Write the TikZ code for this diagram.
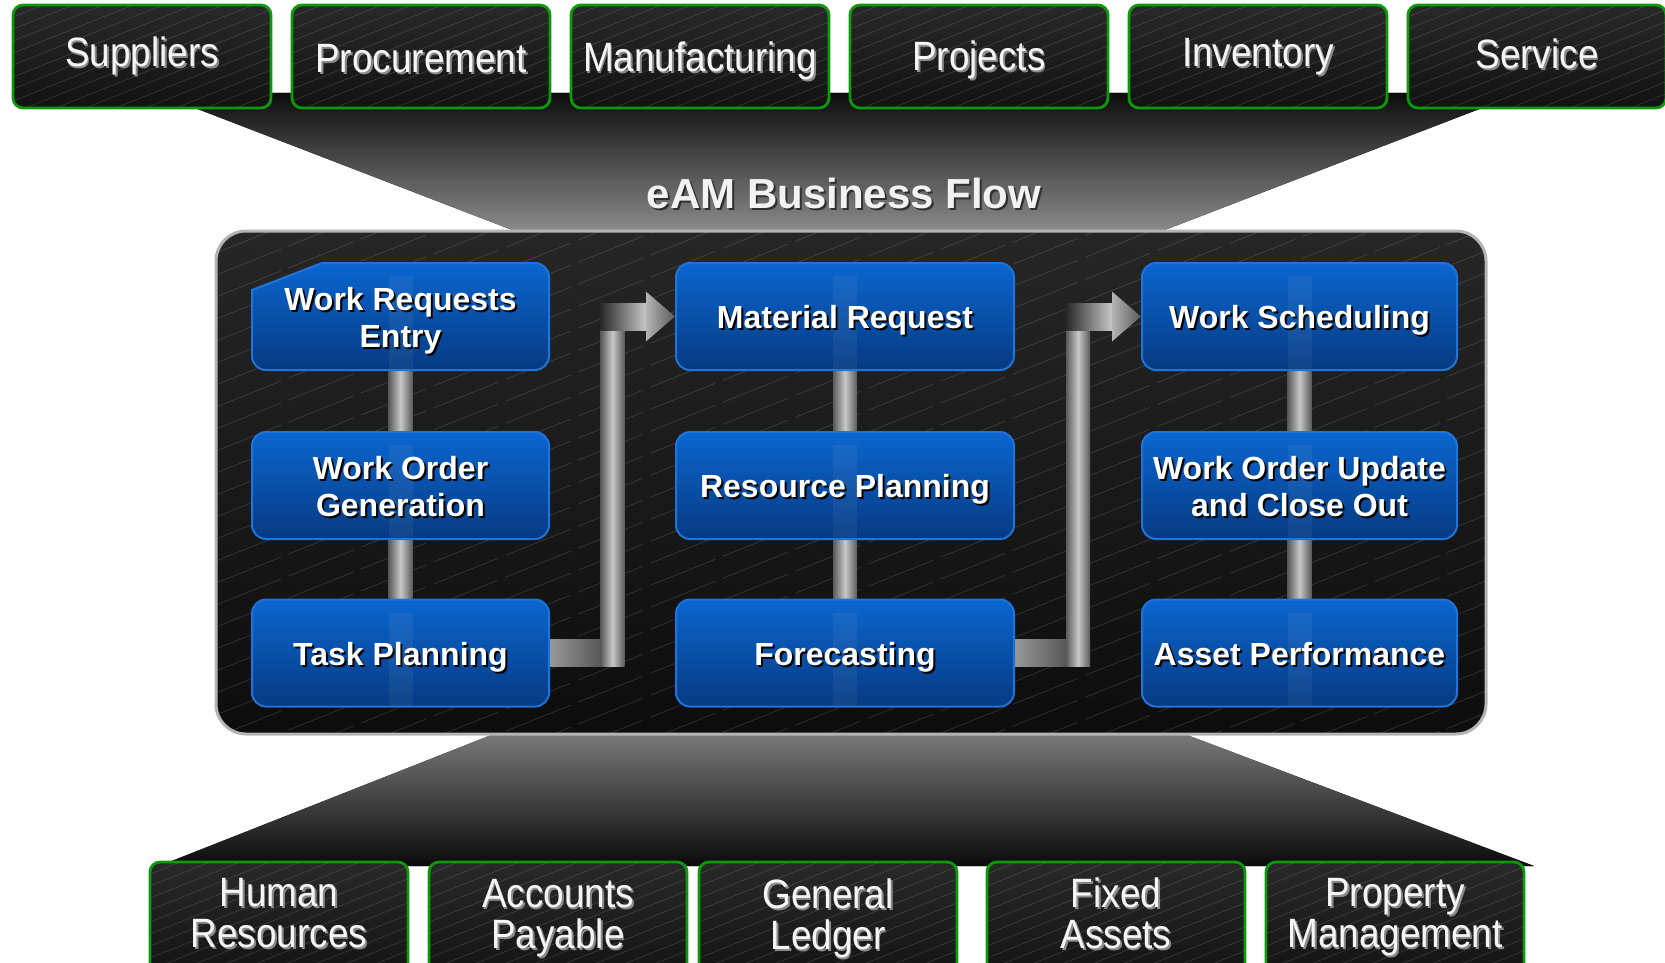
\documentclass[tikz,border=0pt]{standalone}
\usepackage{fontspec}
\setmainfont{Liberation Sans}
\usetikzlibrary{calc}
\definecolor{grnb}{HTML}{0C9A0C}
\definecolor{bluetop}{HTML}{0B66D0}
\definecolor{bluebot}{HTML}{063A82}
\definecolor{blueb}{HTML}{1E74DA}
\definecolor{shgray}{HTML}{8A8A8A}
\definecolor{shdark}{HTML}{303030}
\definecolor{bargray}{HTML}{C8C8C8}
\definecolor{bardark}{HTML}{5A5A5A}
\definecolor{panelb}{HTML}{B4B4B4}
\pgfdeclarelayer{back}\pgfdeclarelayer{mid}\pgfsetlayers{back,mid,main}
\newcommand\shd[2][black]{\leavevmode\rlap{\kern2pt\raisebox{-2pt}{\textcolor{#1}{#2}}}#2}
\newcommand\bsh[1]{\leavevmode\rule{0pt}{26pt}\rlap{\kern2pt\raisebox{-2pt}{\textcolor{black}{\smash{#1}}}}\smash{#1}}
\newcommand\gtx[1]{\scalebox{0.9}[1]{\shd[shgray]{#1}}}
\newcommand\grbox[3]{%
 \path[top color=black!84, bottom color=black!93, rounded corners=10] ({#1-129},#2) rectangle ({#1+129},#3);
 \begin{scope}
 \clip[rounded corners=10] ({#1-129},#2) rectangle ({#1+129},#3);
 \foreach \i in {0,...,22} \draw[white, opacity=0.16, line width=0.6] ({#1-129},{#2+\i*12}) -- ++(258,-103.2);
 \end{scope}
 \draw[grnb, line width=2.8, rounded corners=10] ({#1-129},#2) rectangle ({#1+129},#3);
}
\tikzset{
 gtxt/.style={text=white!96!black, font=\fontsize{41}{41}\selectfont, inner sep=0pt, align=center},
 bluebox/.style={rectangle, rounded corners=14, draw=blueb, line width=2, top color=bluetop, bottom color=bluebot, text=white, font=\bfseries\fontsize{32}{37}\selectfont, align=center, inner sep=0pt, minimum height=107},
 vbar/.style={left color=bardark, right color=bardark, middle color=bargray},
 hbarlow/.style={left color=bargray!95!black, right color=bardark!120},
 shaft/.style={left color=bardark!130, right color=bargray},
 ahead/.style={left color=bargray!90!black, right color=bardark},
 glint/.style={fill=white, opacity=0.055},
}
\begin{document}
\begin{tikzpicture}[x=1pt,y=-1pt]
\useasboundingbox (0,0) rectangle (1665,963);
\clip (0,0) rectangle (1665,963);
\begin{pgfonlayer}{back}
\fill[white] (0,0) rectangle (1665,963);
% funnels
\fill[top color=black!95, bottom color=black!45] (156,93) -- (1521,93) -- (1157,233) -- (520,233) -- cycle;
\fill[top color=black!52, bottom color=black!96] (499,732) -- (1179,732) -- (1534,866) -- (159,866) -- cycle;
% main panel
\path[top color=black!85, bottom color=black!95, rounded corners=30] (216,231) rectangle (1486,734);
\begin{scope}
\clip[rounded corners=30] (216,231) rectangle (1486,734);
\foreach \i in {0,...,47} \draw[white, opacity=0.15, line width=0.7, dash pattern=on 70pt off 8pt] (216,{231+\i*22}) -- ++(1270,-508);
\end{scope}
\draw[panelb, line width=3, rounded corners=30] (216,231) rectangle (1486,734);
\end{pgfonlayer}

% top boxes
\grbox{142}{5}{108}
\grbox{421}{5}{108}
\grbox{700}{5}{108}
\grbox{979}{5}{108}
\grbox{1258}{5}{108}
\grbox{1537}{5}{108}
\node[gtxt] (sup) at (142,57) {\gtx{Suppliers}};
\node[gtxt] (pro) at (421,60) {\gtx{Procurement}};
\node[gtxt] (man) at (700,62) {\gtx{Manufacturing}};
\node[gtxt] (prj) at (979,61) {\gtx{Projects}};
\node[gtxt] (inv) at (1258,58) {\gtx{Inventory}};
\node[gtxt] (ser) at (1537,55) {\gtx{Service}};

% bottom boxes
\grbox{279}{862}{985}
\grbox{558}{862}{985}
\grbox{828}{862}{985}
\grbox{1116}{862}{985}
\grbox{1395}{862}{985}
\node[gtxt] (hr) at (279,914) {\gtx{Human}\\\gtx{Resources}};
\node[gtxt] (ap) at (558,919) {\gtx{Accounts}\\\gtx{Payable}};
\node[gtxt] (gl) at (828,919) {\gtx{General}\\\gtx{Ledger}};
\node[gtxt] (fa) at (1116,914) {\gtx{Fixed}\\\gtx{Assets}};
\node[gtxt] (pm) at (1395,918) {\gtx{Property}\\\gtx{Management}};

% title
\node[text=white!95!black, font=\bfseries\fontsize{42}{48}\selectfont, inner sep=0pt] (title) at (844,194) {\shd[shdark]{eAM Business Flow}};

% blue boxes
\path[top color=bluetop, bottom color=bluebot, draw=blueb, line width=2]
  (252,290) -- (322,263) [rounded corners=14] -- (549,263) -- (549,370) -- (252,370) [sharp corners] -- cycle;
\node[bluebox, draw=none, shade=none, fill=none, minimum width=297] (wre) at (400.5,316.5) {\bsh{Work Requests}\\\bsh{Entry}};
\node[bluebox, minimum width=297] (wog) at (400.5,485.5) {\bsh{Work Order}\\\bsh{Generation}};
\node[bluebox, minimum width=297] (tp) at (400.5,653) {\bsh{Task Planning}};
\node[bluebox, minimum width=338] (mr) at (845,316.5) {\bsh{Material Request}};
\node[bluebox, minimum width=338] (rp) at (845,485.5) {\bsh{Resource Planning}};
\node[bluebox, minimum width=338] (fc) at (845,653) {\bsh{Forecasting}};
\node[bluebox, minimum width=315] (ws) at (1299.5,316.5) {\bsh{Work Scheduling}};
\node[bluebox, minimum width=315] (wou) at (1299.5,485.5) {\bsh{Work Order Update}\\\bsh{and Close Out}};
\node[bluebox, minimum width=315] (ap2) at (1299.5,653) {\bsh{Asset Performance}};

% faint glints of bars through boxes
\foreach \n in {wre,wog,tp,mr,rp,fc,ws,wou,ap2}
  \fill[glint] ($(\n.north)+(-12,14)$) rectangle ($(\n.south)+(12,-2)$);

% connectors
\begin{pgfonlayer}{mid}
\fill[vbar] ($(wre.south)+(-12,0)$) rectangle ($(tp.north)+(12,0)$);
\fill[vbar] ($(mr.south)+(-12,0)$) rectangle ($(fc.north)+(12,0)$);
\fill[vbar] ($(ws.south)+(-12,0)$) rectangle ($(ap2.north)+(12,0)$);
% elbow 1
\coordinate (m1) at ($(tp.east)!0.5!(mr.west)$);
\fill[hbarlow] ($(tp.east)+(-30,-13.5)$) rectangle ($(m1 |- tp.east)+(12,13.5)$);
\fill[vbar] ($(m1 |- mr.west)+(-12,-13.5)$) rectangle ($(m1 |- tp.east)+(12,13.5)$);
\fill[shaft] ($(m1 |- mr.west)+(-12,-13.5)$) rectangle ($(mr.west)+(-29,13.5)$);
\fill[ahead] ($(mr.west)+(-29,-25)$) -- (mr.west) -- ($(mr.west)+(-29,25)$) -- cycle;
% elbow 2
\coordinate (m2) at ($(fc.east)!0.5!(ws.west)$);
\fill[hbarlow] ($(fc.east)+(-30,-13.5)$) rectangle ($(m2 |- fc.east)+(12,13.5)$);
\fill[vbar] ($(m2 |- ws.west)+(-12,-13.5)$) rectangle ($(m2 |- fc.east)+(12,13.5)$);
\fill[shaft] ($(m2 |- ws.west)+(-12,-13.5)$) rectangle ($(ws.west)+(-29,13.5)$);
\fill[ahead] ($(ws.west)+(-29,-25)$) -- (ws.west) -- ($(ws.west)+(-29,25)$) -- cycle;
\end{pgfonlayer}
\end{tikzpicture}
\end{document}
